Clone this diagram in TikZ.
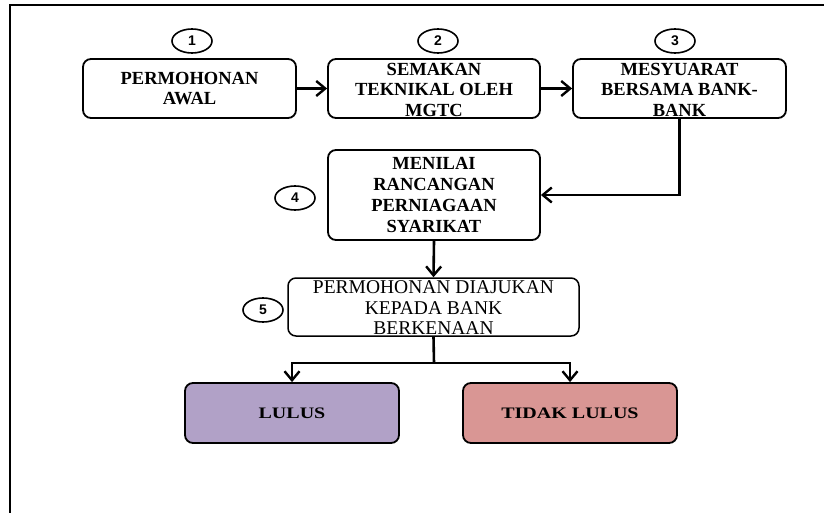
\documentclass[tikz,border=0pt]{standalone}
\usepackage{fontspec}
\usepackage{graphicx}
\usetikzlibrary{arrows.meta,shapes.geometric}
\newfontfamily\tnr{Liberation Serif}
\newfontfamily\arl{Liberation Sans}
\definecolor{lulusfill}{HTML}{B1A1C7}
\definecolor{tidakfill}{HTML}{D99694}
\tikzset{
  stepbox/.style={draw=black, line width=1.8pt, rounded corners=8pt, inner sep=0pt,
    align=center, font=\tnr\bfseries\fontsize{18.5}{20.5}\selectfont},
  numcircle/.style={draw=black, ellipse, line width=1.6pt, minimum width=40pt, minimum height=24pt,
    inner sep=0pt, font=\arl\bfseries\fontsize{14}{14}\selectfont},
  conn/.style={line width=2.6pt, -{Straight Barb[length=9pt,width=15pt,line width=2.4pt]}},
  connplain/.style={line width=2.6pt},
  frameline/.style={line width=1.5pt}
}
\begin{document}
\begin{tikzpicture}[x=1pt,y=-1pt]
\useasboundingbox (0,0) rectangle (824,513);
\fill[white] (0,0) rectangle (824,513);
% frame
\draw[frameline] (824,5) -- (10,5) -- (10,513);

% boxes
\node[stepbox, minimum width=213pt, minimum height=59pt] (b1) at (189.5,88.5) {PERMOHONAN\\AWAL};
\node[stepbox, minimum width=212pt, minimum height=59pt, text height=55.5pt, text depth=0pt] (b2) at (434,88.5) {SEMAKAN\\TEKNIKAL OLEH\\MGTC};
\node[stepbox, minimum width=213pt, minimum height=59pt, text height=55.5pt, text depth=0pt] (b3) at (679.5,88.5) {MESYUARAT\\BERSAMA BANK-\\BANK};
\node[stepbox, minimum width=212pt, minimum height=90pt, font=\tnr\bfseries\fontsize{18.5}{21}\selectfont] (b4) at (434,195) {MENILAI\\RANCANGAN\\PERNIAGAAN\\SYARIKAT};
\node[stepbox, line width=1.5pt, minimum width=291pt, minimum height=58pt, text height=55.5pt, text depth=0pt, font=\tnr\fontsize{19.5}{20.5}\selectfont] (b5) at (433.5,307) {PERMOHONAN DIAJUKAN\\KEPADA BANK\\BERKENAAN};
\node[stepbox, fill=lulusfill, minimum width=214pt, minimum height=60pt, font=\tnr\bfseries\fontsize{16}{16}\selectfont] (lulus) at (292,413) {\scalebox{1.25}[1]{LULUS}};
\node[stepbox, fill=tidakfill, minimum width=214pt, minimum height=60pt, font=\tnr\bfseries\fontsize{16}{16}\selectfont] (tidak) at (570,413) {\scalebox{1.25}[1]{TIDAK LULUS}};

% number circles
\node[numcircle] (c1) at (192,41) {1};
\node[numcircle] (c2) at (438,41) {2};
\node[numcircle] (c3) at (675,41) {3};
\node[numcircle] (c4) at (295,198) {4};
\node[numcircle] (c5) at (263,310) {5};

% connectors
\draw[conn] (b1.east) -- (b2.west);
\draw[conn] (b2.east) -- (b3.west);
\draw[conn] (b3.south) |- (b4.east);
\draw[conn] (b4.south) -- (b5.north);
\coordinate (j) at (434,363);
\draw[connplain] (b5.south) -- (j);
\draw[conn] (j) -| (lulus.north);
\draw[conn] (j) -| (tidak.north);
\end{tikzpicture}
\end{document}
